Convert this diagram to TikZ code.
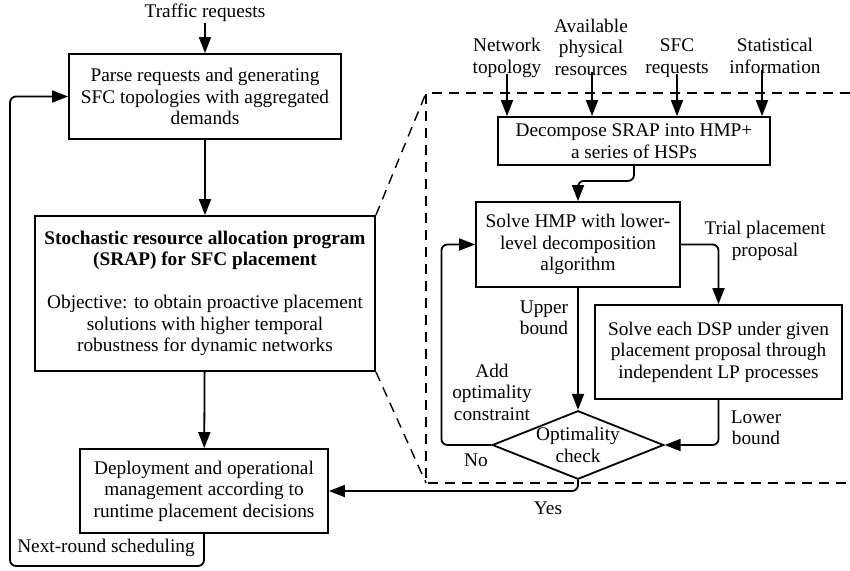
\documentclass[tikz,border=0pt]{standalone}
\usepackage{fontspec}
\setmainfont{Liberation Serif}
\usetikzlibrary{shapes.geometric,arrows.meta}
\begin{document}
\begin{tikzpicture}[x=1pt,y=-1pt,
  font=\fontsize{19.3}{21.5}\selectfont,
  line width=1.8pt,
  box/.style={draw, rectangle, align=center, inner sep=0pt},
  lbl/.style={align=center, inner sep=0pt},
  arr/.style={-{Triangle[length=16pt,width=12pt]}, rounded corners=6pt},
  dsh/.style={line width=1.4pt, dash pattern=on 10pt off 7pt}
]
\useasboundingbox (0,0) rectangle (850,570);

% left column
\node[lbl] (traffic) at (205,13) {Traffic requests};
\node[box, minimum width=272pt, minimum height=85pt] (box1) at (205,96.5)
  {Parse requests and generating\\SFC topologies with aggregated\\demands};
\node[box, minimum width=340pt, minimum height=155pt] (box2) at (205,293.5)
  {\textbf{Stochastic resource allocation program}\\\textbf{(SRAP) for SFC placement}\\[21.5pt]
   Objective: to obtain proactive placement\\solutions with higher temporal\\robustness for dynamic networks};
\node[box, minimum width=248pt, minimum height=84pt] (box3) at (204,491)
  {Deployment and operational\\management according to\\runtime placement decisions};
\node[lbl] (next) at (106,548) {Next-round scheduling};

\draw[arr] (traffic) -- (box1);
\draw[arr] (box1) -- (box2);
\draw[arr] (box2) -- (box3);
\coordinate (lp) at (10,566);
\draw[arr] (box3.south) |- (lp) |- (box1.west);

% zoom frame
\coordinate (ft) at (426,93);
\coordinate (fb) at (426,483);
\coordinate (ftr) at (850,93);
\coordinate (fbr) at (850,483);
\draw[dsh] (ftr) -- (ft) -- (fb) -- (fbr);
\draw[dsh] (box2.north east) -- (ft);
\draw[dsh] (box2.south east) -- (fb);

% inputs
\node[lbl] (nt) at (507,58) {Network\\topology};
\node[lbl] (apr) at (591,47) {Available\\physical\\resources};
\node[lbl] (sfc) at (677,58) {SFC\\requests};
\node[lbl] (stat) at (775,56) {Statistical\\information};
\node[box, minimum width=272pt, minimum height=48pt] (dec) at (634,141)
  {Decompose SRAP into HMP+\\a series of HSPs};
\coordinate (x1) at (507,0);
\coordinate (x2) at (592,0);
\coordinate (x3) at (677,0);
\coordinate (x4) at (762,0);
\draw[arr] ([yshift=4pt]nt.south -| x1) -- (dec.north -| x1);
\draw[arr] ([yshift=4pt]apr.south -| x2) -- (dec.north -| x2);
\draw[arr] ([yshift=4pt]sfc.south -| x3) -- (dec.north -| x3);
\draw[arr] ([yshift=4pt]stat.south -| x4) -- (dec.north -| x4);

\node[box, minimum width=204pt, minimum height=85pt] (hmp) at (578,244.5)
  {Solve HMP with lower-\\level decomposition\\algorithm};
\node[box, minimum width=247pt, minimum height=94pt] (dsp) at (718.5,352)
  {Solve each DSP under given\\placement proposal through\\independent LP processes};
\node[draw, diamond, aspect=2.5, minimum width=169pt, minimum height=68pt, inner sep=0pt, align=center] (chk) at (578,445)
  {Optimality\\check};

\draw[arr] (dec.south) -- ++(0,15) -| (hmp.north);
\draw[arr] (hmp.east) -| (dsp.north);
\draw[arr] (hmp.south) -- (chk.north);
\draw[arr] (dsp.south) |- (chk.east);
\draw[arr] (chk.west) -- ++(-50,0) |- (hmp.west);
\draw[arr] (chk.south) |- (box3.east);

\node[lbl] (trial) at (765,241) {Trial placement\\proposal};
\node[lbl] (upper) at (544,318) {Upper\\bound};
\node[lbl] (lower) at (756,428) {Lower\\bound};
\node[lbl] (addc) at (492,392) {Add\\optimality\\constraint};
\node[lbl] (no) at (476,460) {No};
\node[lbl] (yes) at (548,508) {Yes};
\end{tikzpicture}
\end{document}
